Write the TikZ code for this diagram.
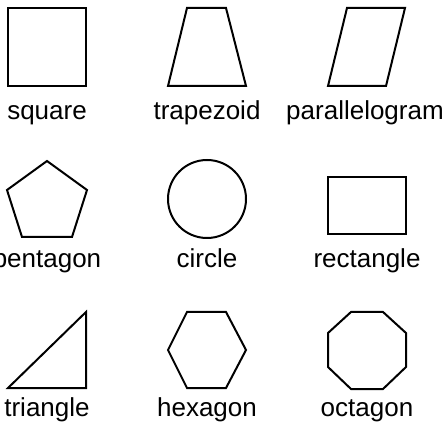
\documentclass[tikz,border=0pt]{standalone}
\usepackage{fontspec}
\setmainfont{Liberation Sans}
\usetikzlibrary{positioning}

\begin{document}
\begin{tikzpicture}[x=1pt, y=-1pt, line width=2pt, line join=miter,
    shapelbl/.style={anchor=base, inner sep=0pt, font=\fontsize{26}{31}\selectfont}]
        \useasboundingbox (0,0) rectangle (444,427);

        % top row
        \draw (8,8) rectangle (86,86);
        \draw (168,86) -- (187,8) -- (226,8) -- (246,86) -- cycle;
        \draw (328,86) -- (347,8) -- (405,8) -- (386,86) -- cycle;
        \node[shapelbl] (square) at (47,120) {square};
        \node[shapelbl] (trapezoid) at (207,120) {trapezoid};
        \node[shapelbl] (parallelogram) at (365,120) {parallelogram};

        % middle row
        \draw (47,161) -- (87,190) -- (72,237) -- (22,237) -- (7,190) -- cycle;
        \draw (207,199) circle[radius=39pt];
        \draw (328,177) rectangle (406,234);
        \node[shapelbl] (pentagon) at (47,268) {pentagon};
        \node[shapelbl] (circle) at (207,268) {circle};
        \node[shapelbl] (rectangle) at (367,268) {rectangle};

        % bottom row
        \draw (8,388) -- (86,388) -- (86,312) -- cycle;
        \draw (168,350) -- (187,312) -- (226,312) -- (246,350) -- (226,388) -- (187,388) -- cycle;
        \draw (328,333) -- (351,312) -- (383,312) -- (406,333) -- (406,367) -- (383,389) -- (351,389) -- (328,367) -- cycle;
        \node[shapelbl] (triangle) at (47,416) {triangle};
        \node[shapelbl] (hexagon) at (207,416) {hexagon};
        \node[shapelbl] (octagon) at (367,416) {octagon};
    \end{tikzpicture}
\end{document}
